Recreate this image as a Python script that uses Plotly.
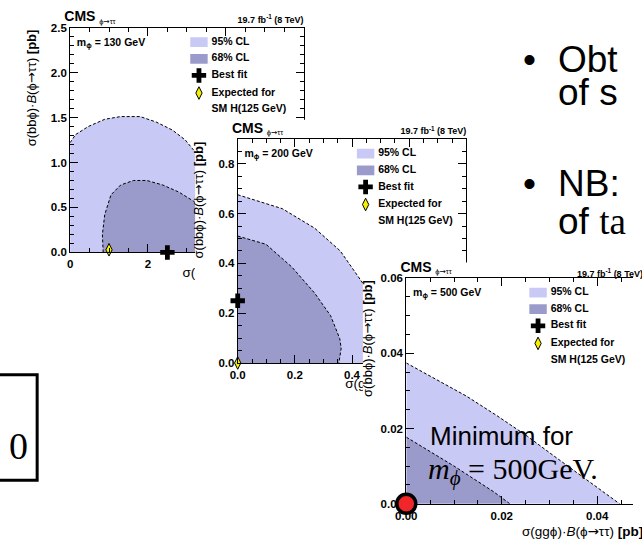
import plotly.graph_objects as go

W, H = 642, 545

# ---------------- scan results ----------------
# x: sigma(gg phi)*B(phi->tautau) [pb], y: sigma(bb phi)*B(phi->tautau) [pb]
mass_labels = ["130 GeV", "200 GeV", "500 GeV"]

# m_phi = 130 GeV
cl95_x_130 = [0.00, 0.14, 0.47, 0.89, 1.30, 1.80, 2.21, 2.63, 2.96, 3.17, 3.55, 3.95, 4.30, 4.52, 4.60]
cl95_y_130 = [1.22, 1.31, 1.40, 1.48, 1.51, 1.51, 1.45, 1.36, 1.25, 1.14, 0.96, 0.74, 0.48, 0.22, 0.00]
cl68_x_130 = [0.85, 0.83, 0.89, 1.05, 1.30, 1.63, 1.97, 2.38, 2.80, 3.17, 3.48, 3.72, 3.88, 3.94]
cl68_y_130 = [0.00, 0.20, 0.42, 0.64, 0.75, 0.80, 0.80, 0.75, 0.67, 0.57, 0.45, 0.31, 0.16, 0.00]
best_130 = [2.5, 0.0]
sm_130 = [1.0, 0.03]

# m_phi = 200 GeV
cl95_x_200 = [0.000, 0.156, 0.269, 0.359, 0.438, 0.480, 0.500, 0.505]
cl95_y_200 = [0.676, 0.620, 0.542, 0.450, 0.320, 0.200, 0.080, 0.000]
cl68_x_200 = [0.000, 0.099, 0.190, 0.269, 0.325, 0.357, 0.362, 0.354]
cl68_y_200 = [0.510, 0.477, 0.385, 0.281, 0.190, 0.098, 0.059, 0.000]
best_200 = [0.0, 0.25]
sm_200 = [0.0, 0.0]

# m_phi = 500 GeV
cl95_x_500 = [0.0, 0.0063, 0.0126, 0.0190, 0.0254, 0.0318, 0.0380, 0.0447]
cl95_y_500 = [0.0374, 0.0331, 0.0286, 0.0234, 0.0179, 0.0119, 0.0062, 0.0]
cl68_x_500 = [0.0, 0.0099, 0.0183, 0.0217]
cl68_y_500 = [0.0177, 0.0101, 0.0032, 0.0]
best_500 = [0.0, 0.0]
sm_500 = [0.0, 0.0]

ARROW = "<span style='font-family:DejaVu Sans'>→</span>"
legend_labels = ["95% CL", "68% CL", "Best fit", "Expected for", "SM H(125 GeV)"]
lumi_label = "<b>19.7 fb<sup>-1</sup> (8 TeV)</b>"
x_title = f"σ(ggϕ)·<i>B</i>(ϕ{ARROW}ττ) <b>[pb]</b>"
y_title = f"σ(bbϕ)·<i>B</i>(ϕ{ARROW}ττ) <b>[pb]</b>"
decay_label = f"ϕ{ARROW}ττ"

# ---------------- styles ----------------
FILL95 = "#c9c9f6"
FILL68 = "#9b9bcb"
SANS = "Liberation Sans, Arial, sans-serif"
SERIF = "Liberation Serif, Times New Roman, serif"
PAD = 6  # gap plotly leaves before right-positioned text of a text point

# pixel geometry: plot area (left/right/top/bottom), sheet area each frame occupies,
# title_right = nominal right edge of the frame (may lie past the page edge)
panels = [
    dict(mass=mass_labels[0], left=61, right=302, top=22, bottom=252, xr=[0, 6], yr=[0, 2.5],
         xdt=2, xmin=0.5, ydt=0.5, ymin=0.1, xfmt=".0f", yfmt=".1f", title_right=302,
         c95=(cl95_x_130, cl95_y_130), c68=(cl68_x_130, cl68_y_130), best=best_130, sm=sm_130,
         sheet=(0, 330, 0, 292), opaque=False, ymirror="ticks", leg=124),
    dict(mass=mass_labels[1], left=234, right=470, top=136, bottom=365, xr=[0, 0.8], yr=[0, 0.9],
         xdt=0.2, xmin=0.05, ydt=0.2, ymin=0.05, xfmt=".1f", yfmt=".1f", title_right=470,
         c95=(cl95_x_200, cl95_y_200), c68=(cl68_x_200, cl68_y_200), best=best_200, sm=sm_200,
         sheet=(190, 480, 116, 406), opaque=True, ymirror="ticks", leg=123),
    dict(mass=mass_labels[2], left=408, right=642, top=278, bottom=509, xr=[0, 0.0475], yr=[0, 0.06],
         xdt=0.02, xmin=0.005, ydt=0.02, ymin=0.005, xfmt=".2f", yfmt=".2f", title_right=654,
         c95=(cl95_x_500, cl95_y_500), c68=(cl68_x_500, cl68_y_500), best=best_500, sm=sm_500,
         sheet=(363, 642, 262, 545), opaque=True, ymirror=False, leg=127),
]

fig = go.Figure()
layout_axes = {}
annotations = []


def ids(n):
    return ("x" if n == 1 else f"x{n}"), ("y" if n == 1 else f"y{n}")


def lname(axid):
    return axid[0] + "axis" + axid[1:]


def text_trace(xa, ya, xs, ys, texts, size, pos, family=SANS):
    return go.Scatter(x=xs, y=ys, mode="text", text=texts, textposition=pos, cliponaxis=False,
                      textfont=dict(family=family, size=size, color="black"),
                      xaxis=xa, yaxis=ya, showlegend=False, hoverinfo="skip")


n = 0
for p in panels:
    L, R, T, B = p["left"], p["right"], p["top"], p["bottom"]
    sx0, sx1, sy0, sy1 = p["sheet"]

    # ---- sheet layer (pixel coordinates): opaque backing + frame texts ----
    n += 1
    fx, fy = ids(n)
    layout_axes[lname(fx)] = dict(domain=[sx0 / W, sx1 / W], range=[sx0, sx1], anchor=fy,
                                  visible=False, fixedrange=True)
    layout_axes[lname(fy)] = dict(domain=[1 - sy1 / H, 1 - sy0 / H], range=[sy1, sy0], anchor=fx,
                                  visible=False, fixedrange=True)
    if p["opaque"]:
        fig.add_trace(go.Scatter(x=[sx0, sx1, sx1, sx0, sx0], y=[sy0, sy0, sy1, sy1, sy0],
                                 mode="lines", fill="toself", fillcolor="white",
                                 line=dict(width=0), xaxis=fx, yaxis=fy, showlegend=False,
                                 hoverinfo="skip"))
    fig.add_trace(text_trace(fx, fy, [L - PAD], [T - 10], ["<b>CMS</b>"], 14, "middle right"))
    fig.add_trace(text_trace(fx, fy, [L + 36 - PAD], [T - 6], [decay_label], 7.5, "middle right"))
    if p["title_right"] < sx1:
        fig.add_trace(text_trace(fx, fy, [p["title_right"]], [T - 7], [lumi_label], 9, "middle left"))
        fig.add_trace(text_trace(fx, fy, [p["title_right"]], [B + 22], [x_title], 13.5, "middle left"))
    else:
        for txt, py, size in ((lumi_label, T - 5, 9), (x_title, B + 28, 13.5)):
            annotations.append(dict(text=txt, x=p["title_right"] / W, y=1 - py / H, xref="paper",
                                    yref="paper", xanchor="right", yanchor="middle",
                                    showarrow=False, font=dict(family=SANS, size=size, color="black")))

    # ---- plot layer (data coordinates) ----
    n += 1
    xa, ya = ids(n)
    x0, x1 = p["xr"]
    y0, y1 = p["yr"]

    def dx(px, L=L, R=R, x0=x0, x1=x1):
        return x0 + (px - L) / (R - L) * (x1 - x0)

    def dy(py, T=T, B=B, y0=y0, y1=y1):
        return y0 + (B - py) / (B - T) * (y1 - y0)

    common = dict(xaxis=xa, yaxis=ya, showlegend=False, hoverinfo="skip")

    # confidence regions
    for (cx_, cy_), col in ((p["c95"], FILL95), (p["c68"], FILL68)):
        fig.add_trace(go.Scatter(x=list(cx_) + [x0], y=list(cy_) + [y0], mode="lines",
                                 fill="toself", fillcolor=col, line=dict(width=0), **common))
    for cx_, cy_ in (p["c95"], p["c68"]):
        fig.add_trace(go.Scatter(x=cx_, y=cy_, mode="lines",
                                 line=dict(color="black", width=1, dash="3px,2px"), **common))

    # best fit and SM expectation
    fig.add_trace(go.Scatter(x=[p["best"][0]], y=[p["best"][1]], mode="markers", cliponaxis=False,
                             marker=dict(symbol="cross", size=12, color="black"), **common))
    fig.add_trace(go.Scatter(x=[p["sm"][0]], y=[p["sm"][1]], mode="markers", cliponaxis=False,
                             marker=dict(symbol="diamond-tall", size=9, color="#f5f000",
                                         line=dict(color="black", width=1)), **common))

    # legend
    lx = L + p["leg"]
    rows = [T + 15, T + 32, T + 49, T + 67, T + 84]
    for ry, col in ((rows[0], FILL95), (rows[1], FILL68)):
        fig.add_trace(go.Scatter(x=[dx(lx), dx(lx + 18), dx(lx + 18), dx(lx), dx(lx)],
                                 y=[dy(ry - 5), dy(ry - 5), dy(ry + 5), dy(ry + 5), dy(ry - 5)],
                                 mode="lines", fill="toself", fillcolor=col, line=dict(width=0),
                                 **common))
    fig.add_trace(go.Scatter(x=[dx(lx + 9)], y=[dy(rows[2])], mode="markers", cliponaxis=False,
                             marker=dict(symbol="cross", size=12, color="black"), **common))
    fig.add_trace(go.Scatter(x=[dx(lx + 9)], y=[dy(rows[3])], mode="markers", cliponaxis=False,
                             marker=dict(symbol="diamond-tall", size=9, color="#f5f000",
                                         line=dict(color="black", width=1)), **common))
    fig.add_trace(text_trace(xa, ya, [dx(lx + 22)] * 5, [dy(r) for r in rows],
                             [f"<b>{t}</b>" for t in legend_labels], 10.5, "middle right"))
    fig.add_trace(text_trace(xa, ya, [dx(L + 13 - PAD)], [dy(T + 16)],
                             [f"<b>m<sub>ϕ</sub> = {p['mass']}</b>"], 10.5, "middle right"))

    tickfont = dict(family=SANS, size=11.5, color="black", weight="bold")
    base = dict(showline=True, linecolor="black", linewidth=1, ticks="inside", ticklen=8,
                tickwidth=1, tickcolor="black", showgrid=False, zeroline=False, tick0=0,
                tickfont=tickfont, fixedrange=True)
    layout_axes[lname(xa)] = dict(
        base, domain=[L / W, R / W], range=p["xr"], anchor=ya, dtick=p["xdt"],
        tickformat=p["xfmt"], mirror="ticks", ticklabelstandoff=1,
        minor=dict(ticks="inside", ticklen=4, dtick=p["xmin"], tick0=0, tickcolor="black",
                   showgrid=False))
    layout_axes[lname(ya)] = dict(
        base, domain=[1 - B / H, 1 - T / H], range=p["yr"], anchor=xa, dtick=p["ydt"],
        tickformat=p["yfmt"], mirror=p["ymirror"], ticklabelstandoff=0,
        minor=dict(ticks="inside", ticklen=4, dtick=p["ymin"], tick0=0, tickcolor="black",
                   showgrid=False))

    annotations.append(dict(text=y_title, x=(L - 40) / W, y=1 - T / H,
                            xref="paper", yref="paper", xanchor="center", yanchor="top",
                            textangle=-90, showarrow=False,
                            font=dict(family=SANS, size=13, color="black")))

# highlighted minimum for m_phi = 500 GeV, on its own layer above the last frame
p3 = panels[2]
n += 1
cxa, cya = ids(n)
fig.add_trace(go.Scatter(x=[best_500[0]], y=[best_500[1]], xaxis=cxa, yaxis=cya, mode="markers",
                         cliponaxis=False, showlegend=False, hoverinfo="skip",
                         marker=dict(symbol="circle", size=19, color="#f0262a",
                                     line=dict(color="black", width=3.5))))
layout_axes[lname(cxa)] = dict(domain=[p3["left"] / W, p3["right"] / W], range=p3["xr"],
                               anchor=cya, visible=False, fixedrange=True)
layout_axes[lname(cya)] = dict(domain=[1 - p3["bottom"] / H, 1 - p3["top"] / H], range=p3["yr"],
                               anchor=cxa, visible=False, fixedrange=True)


def note(text, px, py, size, family=SANS, xanchor="left"):
    annotations.append(dict(text=text, x=px / W, y=1 - py / H, xref="paper", yref="paper",
                            xanchor=xanchor, yanchor="middle", showarrow=False,
                            font=dict(family=family, size=size, color="black")))


note("Minimum for", 430, 440, 26)
note("<i>m</i><sub><i>ϕ</i></sub> = 500GeV.", 428, 475, 30, family=SERIF)
note("•", 535, 55, 37, xanchor="center")
note("Obt", 563, 55, 37)
note("of s", 563, 88, 37)
note("•", 535, 181, 37, xanchor="center")
note("NB:", 563, 181, 37)
note(f"of <span style='font-family:{SERIF}'>ta</span>", 563, 220, 37)
note("0", 8, 450, 38, family=SERIF, xanchor="center")

shapes = [dict(type="rect", xref="paper", yref="paper", x0=-20 / W, x1=27 / W,
               y0=1 - 485 / H, y1=1 - 377 / H, line=dict(color="black", width=3), layer="above")]

fig.update_layout(width=W, height=H, margin=dict(l=0, r=0, t=0, b=0),
                  paper_bgcolor="white", plot_bgcolor="rgba(0,0,0,0)", hovermode=False,
                  annotations=annotations, shapes=shapes, **layout_axes)

fig.write_html("out.html")
